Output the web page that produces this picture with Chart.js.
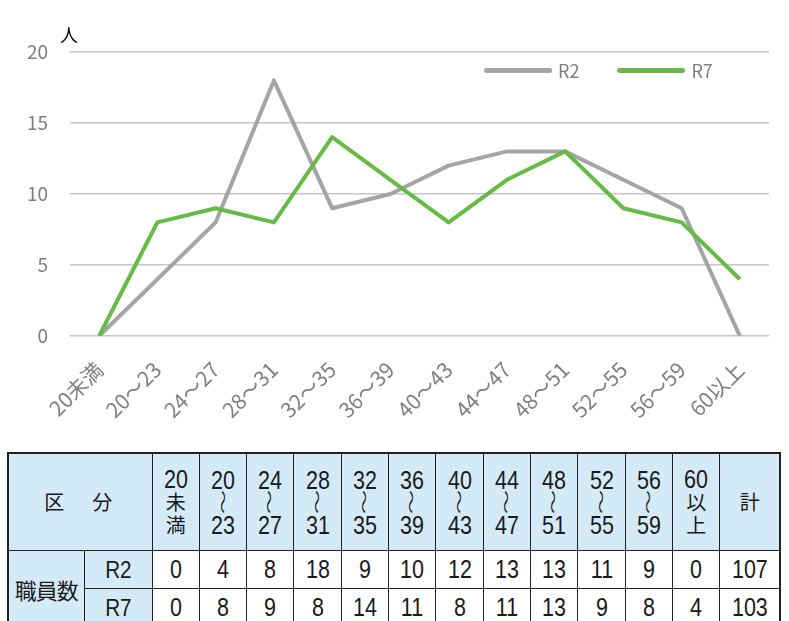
<!DOCTYPE html>
<html lang="ja">
<head>
<meta charset="utf-8">
<title>年代別職員数</title>
<script src="https://cdn.jsdelivr.net/npm/chart.js@4.4.1/dist/chart.umd.min.js"></script>
<style>
  body { margin: 0; background: #fff; font-family: "Noto Sans CJK JP", sans-serif; }
  #wrap { position: relative; width: 789px; height: 621px; overflow: hidden; }
  #chartBox { position: absolute; left: 0; top: 0; width: 789px; height: 440px; }
  #unit { position: absolute; left: 60px; top: 25px; font-size: 18px; color: #000; line-height: 1; }
  #legend { position: absolute; left: 484px; top: 59px; display: flex; gap: 38px; }
  .lg-item { display: flex; align-items: center; font-size: 18px; color: #7f7f7f; line-height: 22px; }
  .lg-line { display: inline-block; width: 68px; height: 5px; border-radius: 3px; margin-right: 6px; }

  #tbl { position: absolute; left: 7px; top: 452px; border-collapse: collapse; table-layout: fixed; width: 772px;
         font-family: "Liberation Sans", "Noto Sans CJK JP", sans-serif; color: #1a1a1a; border: 2px solid #222; }
  #tbl td, #tbl th { border: 1.5px solid #222; padding: 0; text-align: center; font-weight: normal; white-space: nowrap; }
  #tbl th { background: #d5eaf7; }
  #tbl .head { height: 96px; font-size: 25px; line-height: 22px; }
  #tbl .n { display: inline-block; transform: scaleX(0.86); }
  #tbl .cjk { font-family: "Noto Sans CJK JP", sans-serif; font-size: 20px; }
  #tbl .kubun { font-family: "Noto Sans CJK JP", sans-serif; font-size: 20px; letter-spacing: 4px; }
  #tbl .wave { display: inline-block; transform: rotate(90deg) scaleY(0.55); font-size: 24px; font-family: "Noto Sans CJK JP", sans-serif; }
  #tbl tr.val td { height: 37px; font-size: 25px; }
  #tbl tr.val td.side { background: #d5eaf7; font-family: "Noto Sans CJK JP", sans-serif; font-size: 22px; letter-spacing: -1px; }
  #tbl tr.val td.rl { background: #d5eaf7; font-size: 24px; }
</style>
</head>
<body>
<div id="wrap">
  <div id="chartBox"><canvas id="ageChart"></canvas></div>
  <div id="unit">人</div>
  <div id="legend"></div>
  <table id="tbl"></table>
</div>

<script>
// age groups and staff counts (R2 / R7)
const ageGroups = ['20未満', '20～23', '24～27', '28～31', '32～35', '36～39', '40～43', '44～47', '48～51', '52～55', '56～59', '60以上'];
const r2Values = [0, 4, 8, 18, 9, 10, 12, 13, 13, 11, 9, 0];
const r7Values = [0, 8, 9, 8, 14, 11, 8, 11, 13, 9, 8, 4];
const seriesNames = ['R2', 'R7'];
const yTicks = [0, 5, 10, 15, 20];

const GRAY = '#a5a5a5';
const GREEN = '#66bb44';
const TICK_COLOR = '#7f7f7f';

Chart.defaults.font.family = "'Noto Sans CJK JP', 'Noto Sans', sans-serif";

const datasets = [
  { label: seriesNames[0], data: r2Values, borderColor: GRAY, order: 2 },
  { label: seriesNames[1], data: r7Values, borderColor: GREEN, order: 1 }
].map(ds => ({
  ...ds,
  borderWidth: 4,
  pointRadius: 0,
  pointHoverRadius: 0,
  tension: 0,
  fill: false,
  borderJoinStyle: 'round'
}));

new Chart(document.getElementById('ageChart'), {
  type: 'line',
  data: { labels: ageGroups, datasets },
  options: {
    responsive: true,
    maintainAspectRatio: false,
    animation: false,
    layout: { padding: { top: 52, right: 20, left: 0, bottom: 0 } },
    plugins: {
      legend: { display: false },
      tooltip: { enabled: false }
    },
    scales: {
      x: {
        offset: true,
        grid: { display: false },
        border: { display: false },
        ticks: {
          autoSkip: false,
          minRotation: 45,
          maxRotation: 45,
          padding: 13,
          color: TICK_COLOR,
          font: { size: 21 }
        },
        afterFit: s => { s.height = 104; }
      },
      y: {
        min: yTicks[0],
        max: yTicks[yTicks.length - 1],
        afterBuildTicks: s => { s.ticks = yTicks.map(v => ({ value: v })); },
        grid: { color: '#c6c6c6', lineWidth: 1.5, drawTicks: false },
        border: { display: false },
        ticks: { padding: 22, color: TICK_COLOR, font: { size: 19 } },
        afterFit: s => { s.width = 70; }
      }
    }
  }
});

// legend in the top right of the plot
document.getElementById('legend').innerHTML = datasets.map(ds =>
  `<div class="lg-item"><span class="lg-line" style="background:${ds.borderColor}"></span>${ds.label}</div>`
).join('');

// table under the chart
const num = v => `<span class="n">${v}</span>`;

function headCell(label) {
  let parts;
  if (label.includes('～')) {
    const [a, b] = label.split('～');
    parts = [num(a), '<span class="wave">～</span>', num(b)];
  } else {
    parts = [num(label.slice(0, 2)), `<span class="cjk">${label[2]}</span>`, `<span class="cjk">${label[3]}</span>`];
  }
  return `<th class="head">${parts.map(p => `<div>${p}</div>`).join('')}</th>`;
}

const sum = arr => arr.reduce((a, b) => a + b, 0);
const rows = [r2Values, r7Values];

let html = '<colgroup><col style="width:76px"><col style="width:68px">';
html += ageGroups.map(() => '<col style="width:47.33px">').join('');
html += '<col style="width:60px"></colgroup>';
html += `<tr><th class="head kubun" colspan="2">区　分</th>${ageGroups.map(headCell).join('')}<th class="head cjk">計</th></tr>`;
rows.forEach((vals, i) => {
  html += '<tr class="val">';
  if (i === 0) html += `<td class="side" rowspan="2">職員数</td>`;
  html += `<td class="rl">${num(seriesNames[i])}</td>`;
  html += vals.map(v => `<td>${num(v)}</td>`).join('');
  html += `<td>${num(sum(vals))}</td></tr>`;
});
document.getElementById('tbl').innerHTML = html;
</script>
</body>
</html>
